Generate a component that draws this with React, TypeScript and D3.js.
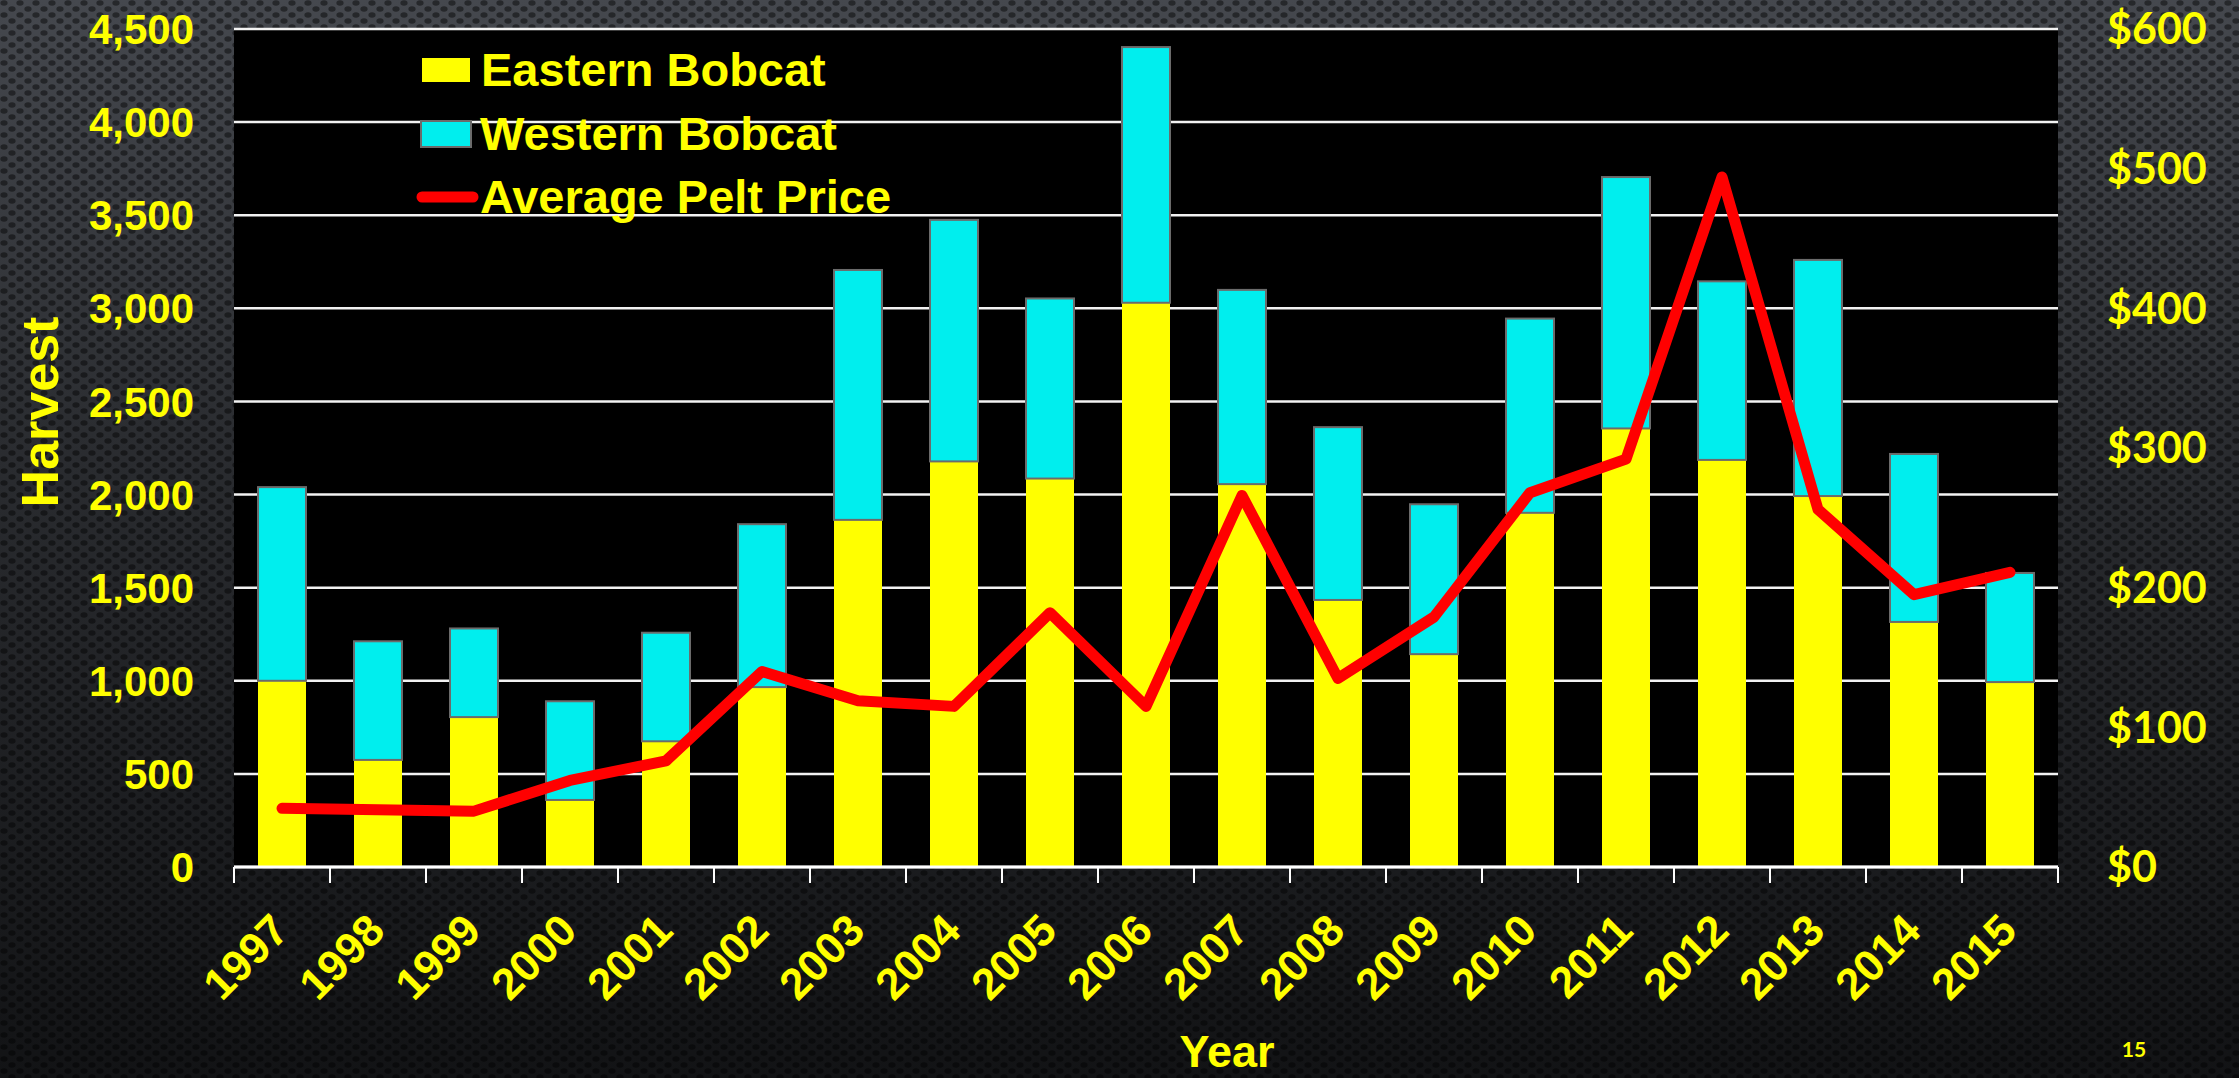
import React from "react";
import * as d3 from "d3";

const years = ["1997", "1998", "1999", "2000", "2001", "2002", "2003", "2004", "2005", "2006", "2007", "2008", "2009", "2010", "2011", "2012", "2013", "2014", "2015"];
const eastern = [1000, 575, 805, 360, 675, 966, 1864, 2178, 2086, 3030, 2056, 1434, 1143, 1902, 2355, 2186, 1992, 1316, 993];
const western = [1040, 637, 476, 530, 583, 875, 1342, 1297, 967, 1373, 1043, 928, 805, 1043, 1350, 959, 1268, 902, 586];
const pelt = [42, 41, 40, 62, 76, 140, 119, 115, 182, 115, 266, 135, 179, 268, 292, 494, 256, 195, 211];
const harvestTicks = [0, 500, 1000, 1500, 2000, 2500, 3000, 3500, 4000, 4500];
const priceTicks = [0, 100, 200, 300, 400, 500, 600];
const legendItems = ["Eastern Bobcat", "Western Bobcat", "Average Pelt Price"];

const W = 2239;
const H = 1078;
const left = 234;
const right = 2058;
const top = 29;
const bottom = 867;
const YELLOW = "#FFFF00";
const CYAN = "#00EEEE";
const numFont = "'Liberation Sans', Arial, sans-serif";

export default function App() {
  const rows = years.map((y, i) => ({ year: y, E: eastern[i], W: western[i] }));
  const x = d3.scaleBand().domain(years).range([left, right]).paddingInner(0.5).paddingOuter(0.25);
  const step = x.step();
  const y = d3.scaleLinear().domain([0, 4500]).range([bottom, top]);
  const y2 = d3.scaleLinear().domain([0, 600]).range([bottom, top]);
  const stacked = d3.stack<any>().keys(["E", "W"])(rows);
  const line = d3
    .line<number>()
    .x((_, i) => (x(years[i]) as number) + x.bandwidth() / 2)
    .y((d) => y2(d));
  const fmt = d3.format(",");

  React.useEffect(() => {
    document.body.style.margin = "0";
    document.body.style.background = "#111214";
  }, []);

  return (
    <svg width={W} height={H} style={{ display: "block" }}>
      <defs>
        <linearGradient id="bg" x1="0" y1="0" x2="0" y2="1">
          <stop offset="0%" stopColor="#45484e" />
          <stop offset="40%" stopColor="#2b2d31" />
          <stop offset="100%" stopColor="#121315" />
        </linearGradient>
        <pattern id="dots" width="16" height="12" patternUnits="userSpaceOnUse">
          <ellipse cx="4" cy="3" rx="3.6" ry="2.8" fill="#000" opacity="0.45" />
          <ellipse cx="12" cy="9" rx="3.6" ry="2.8" fill="#000" opacity="0.45" />
        </pattern>
      </defs>
      <rect x={0} y={0} width={W} height={H} fill="url(#bg)" />
      <rect x={0} y={0} width={W} height={H} fill="url(#dots)" />

      <rect x={left} y={top} width={right - left} height={bottom - top} fill="#000" />

      {harvestTicks.map((t) => (
        <line key={t} x1={left} x2={right} y1={y(t)} y2={y(t)} stroke="#f2f2f2" strokeWidth={2.5} />
      ))}

      {stacked.map((s) => (
        <g key={s.key} fill={s.key === "E" ? YELLOW : CYAN} stroke={s.key === "E" ? "none" : "#6b6b6b"} strokeWidth={2}>
          {s.map((d: any) => (
            <rect
              key={d.data.year}
              x={x(d.data.year)}
              y={y(d[1])}
              width={x.bandwidth()}
              height={y(d[0]) - y(d[1])}
            />
          ))}
        </g>
      ))}

      <path d={line(pelt) as string} fill="none" stroke="#FF0000" strokeWidth={11} strokeLinecap="round" strokeLinejoin="round" />

      {/* x axis */}
      <line x1={left} x2={right} y1={bottom} y2={bottom} stroke="#fff" strokeWidth={3} />
      {d3.range(years.length + 1).map((i) => (
        <line key={i} x1={left + i * step} x2={left + i * step} y1={bottom} y2={bottom + 16} stroke="#fff" strokeWidth={2} />
      ))}
      {years.map((yr) => {
        const cx = (x(yr) as number) + x.bandwidth() / 2 + 9;
        const cy = 933;
        return (
          <text
            key={yr}
            x={cx}
            y={cy}
            transform={`rotate(-45 ${cx} ${cy})`}
            textAnchor="end"
            fill={YELLOW}
            fontFamily={numFont}
            fontWeight="bold"
            fontSize={44}
          >
            {yr}
          </text>
        );
      })}

      {/* left axis labels */}
      {harvestTicks.map((t) => (
        <text key={t} x={194} y={y(t)} dy="0.36em" textAnchor="end" fill={YELLOW} fontFamily={numFont} fontWeight="bold" fontSize={42}>
          {fmt(t)}
        </text>
      ))}

      {/* right axis labels */}
      {priceTicks.map((t) => (
        <text key={t} x={2107} y={y2(t)} dy="0.36em" fill={YELLOW} fontFamily="Lato, sans-serif" fontWeight="bold" fontSize={43}>
          {"$" + t}
        </text>
      ))}

      <text transform="translate(58,412) rotate(-90)" textAnchor="middle" fill={YELLOW} fontFamily={numFont} fontWeight="bold" fontSize={52}>
        Harvest
      </text>
      <text x={1227} y={1067} textAnchor="middle" fill={YELLOW} fontFamily={numFont} fontWeight="bold" fontSize={45}>
        Year
      </text>

      {/* legend */}
      <g fontFamily={numFont} fontWeight="bold" fontSize={47} fill={YELLOW}>
        <rect x={422} y={58} width={48} height={24} fill={YELLOW} />
        <text x={481} y={86}>{legendItems[0]}</text>
        <rect x={421} y={121} width={50} height={26} fill={CYAN} stroke="#6b6b6b" strokeWidth={2} />
        <text x={480} y={150}>{legendItems[1]}</text>
        <line x1={422} x2={473} y1={197} y2={197} stroke="#FF0000" strokeWidth={11} strokeLinecap="round" />
        <text x={480} y={213}>{legendItems[2]}</text>
      </g>

      <text x={2134} y={1057} textAnchor="middle" fill={YELLOW} fontFamily="Lato, sans-serif" fontWeight="bold" fontSize={21}>
        15
      </text>
    </svg>
  );
}
